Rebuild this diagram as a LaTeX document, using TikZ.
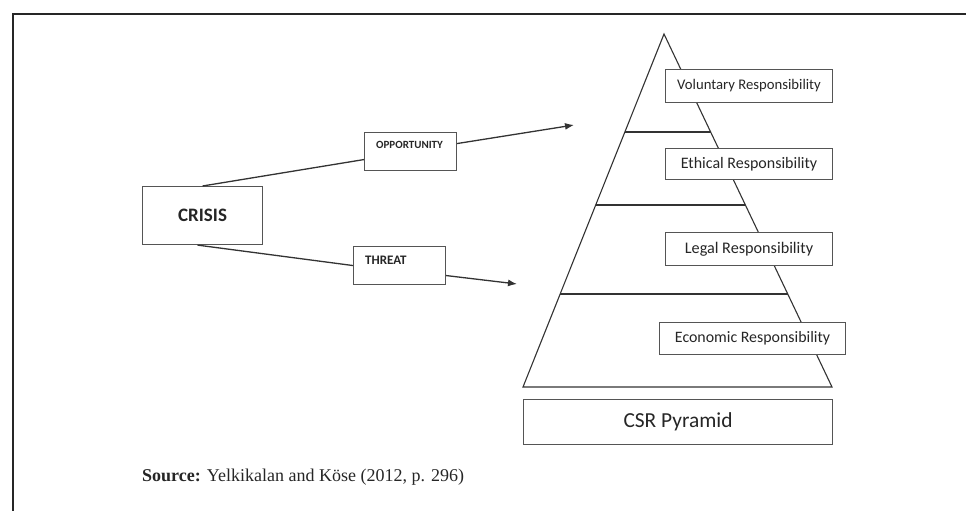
\documentclass[tikz,border=0pt]{standalone}
\usepackage{fontspec}
\setmainfont{Liberation Serif}
\newfontfamily\boxfont{Carlito}
\usetikzlibrary{arrows.meta,calc}
\definecolor{linegray}{HTML}{333333}
\definecolor{boxgray}{HTML}{555555}
\definecolor{textgray}{HTML}{262626}
\begin{document}
\begin{tikzpicture}[x=1pt,y=-1pt,
  boxnode/.style={draw=boxgray, line width=1.1pt, fill=white, rectangle, inner sep=0pt, anchor=north west, text=textgray, font=\boxfont},
  conn/.style={draw=linegray, line width=1.3pt},
  arr/.style={conn, -{Latex[length=9pt,width=7pt]}},
  pyr/.style={draw=linegray, line width=1.1pt}]
\useasboundingbox (0,0) rectangle (966,511);
% frame
\draw[line width=2.6pt, draw=black!85] (13,511) -- (13,14) -- (966,14);
% pyramid
\coordinate (apex) at (664,34);
\coordinate (bl) at (523,387);
\coordinate (br) at (832,387);
\draw[pyr] (bl) -- (apex) -- (br) -- cycle;
\draw[pyr] ($(apex)!{(132-34)/353}!(bl)$) -- ($(apex)!{(132-34)/353}!(br)$);
\draw[pyr] ($(apex)!{(205-34)/353}!(bl)$) -- ($(apex)!{(205-34)/353}!(br)$);
\draw[pyr] ($(apex)!{(294-34)/353}!(bl)$) -- ($(apex)!{(294-34)/353}!(br)$);
% pyramid labels
\node[boxnode, minimum width=167pt, minimum height=33pt, font=\boxfont\fontsize{14.7}{16}\selectfont] (vol) at (665,69) {Voluntary Responsibility};
\node[boxnode, minimum width=167pt, minimum height=31pt, font=\boxfont\fontsize{16}{18}\selectfont] (eth) at (665,148) {Ethical Responsibility};
\node[boxnode, minimum width=167pt, minimum height=33pt, font=\boxfont\fontsize{16.2}{18}\selectfont] (leg) at (665,232) {Legal Responsibility};
\node[boxnode, minimum width=186pt, minimum height=32pt, font=\boxfont\fontsize{15.9}{18}\selectfont] (eco) at (659,322) {Economic Responsibility};
\node[boxnode, minimum width=309pt, minimum height=45pt, font=\boxfont\fontsize{21.4}{24}\selectfont] (csr) at (523,399) {CSR Pyramid};
% crisis side
\node[boxnode, minimum width=120pt, minimum height=58pt, font=\boxfont\bfseries\fontsize{19}{21}\selectfont] (crisis) at (142,186) {CRISIS};
\node[boxnode, minimum width=92pt, minimum height=38pt] (opp) at (364,132) {};
\node[anchor=west, inner sep=0pt, text=textgray, font=\boxfont\bfseries\fontsize{11}{12}\selectfont] (opptext) at (376,145) {OPPORTUNITY};
\node[boxnode, minimum width=92pt, minimum height=38pt] (threat) at (353,246) {};
\node[anchor=west, inner sep=0pt, text=textgray, font=\boxfont\bfseries\fontsize{13}{14}\selectfont] (threattext) at (365,260) {THREAT};
\coordinate (opptip) at (574,125);
\coordinate (threattip) at (517,284);
\draw[conn] (crisis.north) -- ([yshift=-8pt]opp.west);
\draw[arr] ([yshift=8pt]opp.east) -- (opptip);
\draw[conn] ([xshift=-5pt]crisis.south) -- (threat.west);
\draw[arr] ([yshift=-10pt]threat.east) -- (threattip);
% source
\node[anchor=west, inner sep=0pt, font=\fontsize{18}{21}\selectfont, text=black!85] (source) at (142,477) {\textbf{Source:} Yelkikalan and Köse (2012, p. 296)};
\end{tikzpicture}
\end{document}
